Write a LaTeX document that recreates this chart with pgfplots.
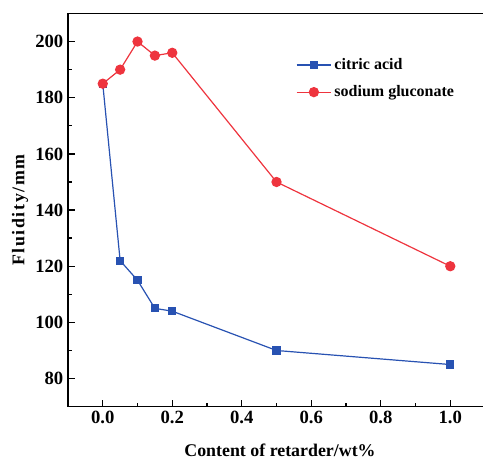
\documentclass[border=0pt]{standalone}
\usepackage{pgfplots}
\pgfplotsset{compat=1.18}
\usepackage{fontspec}
\setmainfont{Liberation Serif}
\definecolor{cblue}{RGB}{40,82,178}
\definecolor{cred}{RGB}{238,52,62}
\begin{document}
\begin{tikzpicture}
\path[use as bounding box] (-51pt,-44.25pt) rectangle (311.25pt,305pt);
\begin{axis}[
  name=ax,
  at={(0,0)}, anchor=south west,
  scale only axis,
  width=318pt, height=294.9pt,
  xmin=-0.1, xmax=1.12,
  ymin=70, ymax=210,
  xtick={0,0.2,0.4,0.6,0.8,1.0},
  xticklabels={0.0,0.2,0.4,0.6,0.8,1.0},
  ytick={80,100,...,200},
  minor x tick num=1,
  minor y tick num=1,
  tick align=inside,
  xtick pos=bottom, ytick pos=left,
  major tick length=5pt, minor tick length=3pt,
  axis line style={line width=1.2pt},
  every tick/.style={black, line width=1pt},
  tick label style={font=\bfseries\fontsize{14}{16}\selectfont},
  /pgf/number format/assume math mode=true,
  xlabel={\bfseries Content of retarder/wt\%},
  ylabel={\bfseries\addfontfeatures{LetterSpace=9}Fluidity/mm},
  label style={font=\bfseries\fontsize{13.4}{15}\selectfont},
  xlabel style={at={(axis description cs:0.5,0)}, anchor=center, yshift=-33pt},
  ylabel style={at={(axis description cs:0,0.5)}, anchor=center, rotate=0, yshift=36pt},
  legend style={draw=none, fill=none, at={(0.537,0.893)}, anchor=north west, inner xsep=0pt, inner ysep=0pt, font=\bfseries\fontsize{12}{14}\selectfont, row sep=6.5pt},
  legend cell align=left,
  legend image code/.code={\draw[mark repeat=2,mark phase=2] plot coordinates {(0pt,0pt) (13pt,0pt) (26pt,0pt)};},
]
\addplot[cblue, line width=0.9pt, mark=square*, mark size=2.6pt, mark options={fill=cblue, draw=cblue}] coordinates {
(0,185) (0.05,122) (0.1,115) (0.15,105) (0.2,104) (0.5,90) (1.0,85)};
\addlegendentry{citric acid}
\addplot[cred, line width=0.9pt, mark=*, mark size=3.4pt, mark options={fill=cred, draw=cred}] coordinates {
(0,185) (0.05,190) (0.1,200) (0.15,195) (0.2,196) (0.5,150) (1.0,120)};
\addlegendentry{sodium gluconate}
\end{axis}
\end{tikzpicture}
\end{document}
